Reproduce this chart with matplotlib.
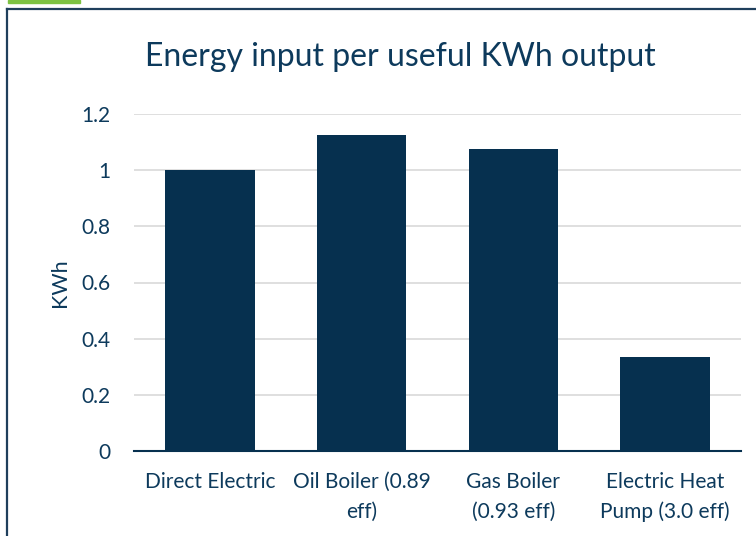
import matplotlib.pyplot as plt
from matplotlib.lines import Line2D
from matplotlib.patches import Rectangle

# data
categories = ['Direct Electric', 'Oil Boiler (0.89\neff)', 'Gas Boiler\n(0.93 eff)',
              'Electric Heat\nPump (3.0 eff)']
kwh_input = [1.0, 1.1236, 1.0753, 0.3333]
y_ticks = [0, 0.2, 0.4, 0.6, 0.8, 1, 1.2]
y_tick_labels = ['0', '0.2', '0.4', '0.6', '0.8', '1', '1.2']

navy = '#06304f'
text_col = '#0d3a5c'

plt.rcParams['font.family'] = ['Lato', 'DejaVu Sans']

fig = plt.figure(figsize=(7.56, 5.36), dpi=100)
ax = fig.add_axes([134 / 756, 1 - 451 / 536, 607 / 756, (451 - 114) / 536])

x = range(len(categories))
ax.bar(x, kwh_input, width=0.59, color=navy, zorder=3)

ax.set_xlim(-0.5, len(categories) - 0.5)
ax.set_ylim(0, 1.2)
ax.set_yticks(y_ticks)
ax.set_yticklabels(y_tick_labels)
ax.set_xticks(list(x))
ax.set_xticklabels(categories, linespacing=1.6)
ax.tick_params(axis='both', length=0, labelsize=15, colors=text_col)
ax.tick_params(axis='y', pad=17)
ax.tick_params(axis='x', pad=15)
ax.grid(axis='y', color='#d9d9d9', linewidth=1.2, zorder=0)

for side in ['top', 'right', 'left']:
    ax.spines[side].set_visible(False)
ax.spines['bottom'].set_color(navy)
ax.spines['bottom'].set_linewidth(1.5)
ax.spines['bottom'].set_zorder(4)

ax.set_ylabel('KWh', fontsize=15.5, color=text_col, labelpad=8)

fig.text(0.529, 1 - 57 / 536, 'Energy input per useful KWh output', ha='center', va='center',
         fontsize=23, color=text_col)

# chart frame and green tab
fig.add_artist(Line2D([7 / 756, 7 / 756], [0, 1 - 9 / 536], color='#1f3f5c', linewidth=1.6))
fig.add_artist(Line2D([7 / 756, 1], [1 - 9 / 536, 1 - 9 / 536], color='#1f3f5c', linewidth=1.6))
fig.add_artist(Rectangle((8 / 756, 1 - 3 / 536), 72 / 756, 3 / 536, color='#7dc242',
                         transform=fig.transFigure))

fig.savefig('out.png', dpi=100)
